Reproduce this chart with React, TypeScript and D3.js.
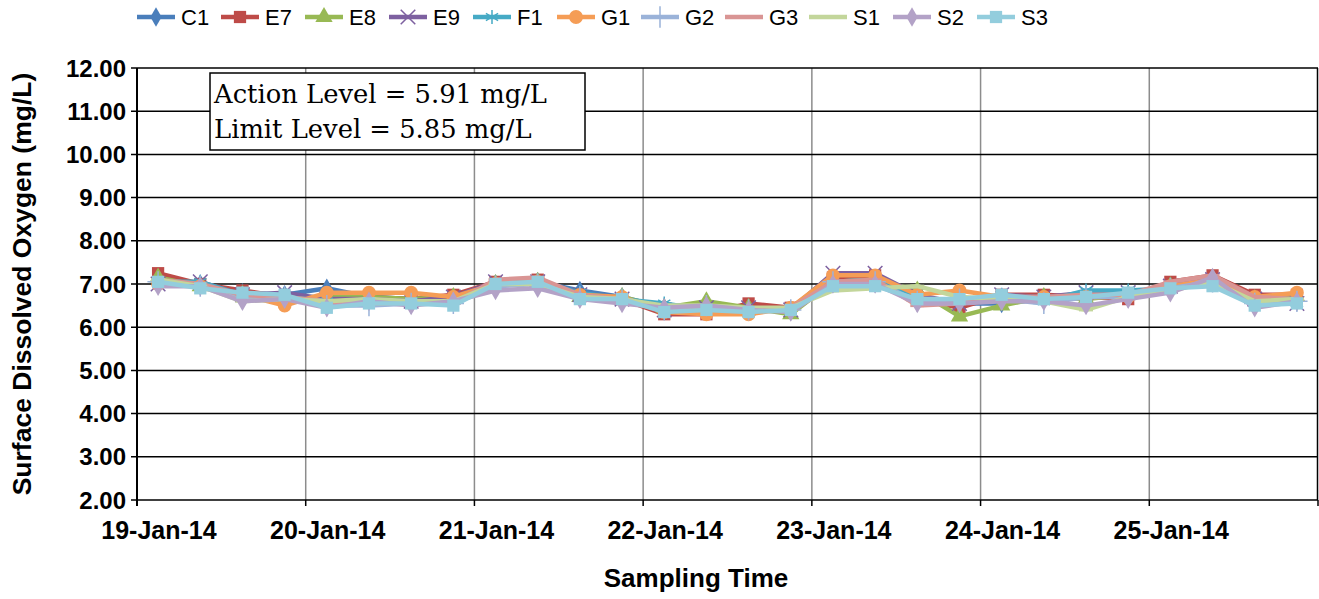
import React from 'react';
import * as d3 from 'd3';

const width = 1319;
const height = 599;
const margin = { top: 68, right: 1, bottom: 99, left: 137 };

const seriesNames = ['C1', 'E7', 'E8', 'E9', 'F1', 'G1', 'G2', 'G3', 'S1', 'S2', 'S3'];
const seriesColors = ['#4A7EBB', '#BE4B48', '#98B954', '#7D60A0', '#46AAC5', '#F59D56', '#9BB3D9', '#D99594', '#C3D69B', '#B3A2C7', '#93CDDD'];
const seriesMarkers = ['diamond', 'square', 'triangle', 'times', 'asterisk', 'circle', 'plus', 'dash', 'dash', 'diamond', 'square'];

const sampleTimes = [
    '2014-01-19 03:00', '2014-01-19 09:00', '2014-01-19 15:00', '2014-01-19 21:00',
    '2014-01-20 03:00', '2014-01-20 09:00', '2014-01-20 15:00', '2014-01-20 21:00',
    '2014-01-21 03:00', '2014-01-21 09:00', '2014-01-21 15:00', '2014-01-21 21:00',
    '2014-01-22 03:00', '2014-01-22 09:00', '2014-01-22 15:00', '2014-01-22 21:00',
    '2014-01-23 03:00', '2014-01-23 09:00', '2014-01-23 15:00', '2014-01-23 21:00',
    '2014-01-24 03:00', '2014-01-24 09:00', '2014-01-24 15:00', '2014-01-24 21:00',
    '2014-01-25 03:00', '2014-01-25 09:00', '2014-01-25 15:00', '2014-01-25 21:00',
];

const C1 = [7.05, 7.0, 6.8, 6.75, 6.9, 6.7, 6.65, 6.65, 7.0, 7.05, 6.85, 6.7, 6.45, 6.45, 6.4, 6.4, 7.1, 7.1, 6.7, 6.55, 6.55, 6.65, 6.7, 6.75, 6.9, 7.05, 6.65, 6.7];
const E7 = [7.25, 7.0, 6.85, 6.7, 6.65, 6.7, 6.65, 6.75, 7.05, 7.1, 6.75, 6.65, 6.3, 6.3, 6.55, 6.45, 7.15, 7.2, 6.65, 6.45, 6.75, 6.75, 6.7, 6.65, 7.05, 7.2, 6.75, 6.75];
const E8 = [7.15, 6.95, 6.75, 6.7, 6.7, 6.7, 6.65, 6.7, 7.0, 7.05, 6.7, 6.7, 6.45, 6.6, 6.45, 6.3, 7.05, 7.1, 6.85, 6.25, 6.5, 6.7, 6.65, 6.75, 6.95, 7.05, 6.65, 6.7];
const E9 = [7.0, 7.05, 6.75, 6.8, 6.65, 6.65, 6.6, 6.7, 7.05, 7.05, 6.75, 6.65, 6.4, 6.45, 6.45, 6.4, 7.25, 7.25, 6.75, 6.55, 6.75, 6.7, 6.8, 6.8, 6.95, 7.1, 6.65, 6.55];
const F1 = [7.05, 7.05, 6.75, 6.7, 6.6, 6.6, 6.6, 6.6, 7.0, 7.05, 6.8, 6.65, 6.55, 6.4, 6.4, 6.4, 7.05, 7.1, 6.65, 6.6, 6.75, 6.6, 6.85, 6.85, 6.9, 7.0, 6.55, 6.55];
const G1 = [7.0, 6.95, 6.75, 6.5, 6.8, 6.8, 6.8, 6.7, 7.0, 7.05, 6.75, 6.7, 6.35, 6.3, 6.3, 6.45, 7.2, 7.2, 6.75, 6.85, 6.7, 6.7, 6.7, 6.7, 6.95, 7.1, 6.7, 6.8];
const G2 = [7.05, 6.95, 6.7, 6.7, 6.5, 6.5, 6.55, 6.55, 6.95, 7.0, 6.7, 6.65, 6.4, 6.5, 6.4, 6.4, 7.05, 7.05, 6.6, 6.65, 6.65, 6.55, 6.7, 6.7, 6.9, 7.05, 6.55, 6.6];
const G3 = [7.1, 7.0, 6.75, 6.7, 6.6, 6.55, 6.55, 6.55, 7.1, 7.15, 6.75, 6.65, 6.45, 6.45, 6.4, 6.45, 7.05, 7.1, 6.5, 6.55, 6.7, 6.7, 6.75, 6.75, 7.05, 7.2, 6.7, 6.65];
const S1 = [7.1, 6.95, 6.6, 6.65, 6.6, 6.65, 6.6, 6.6, 7.0, 7.0, 6.7, 6.65, 6.5, 6.5, 6.45, 6.45, 6.85, 6.9, 6.95, 6.7, 6.65, 6.6, 6.4, 6.7, 6.85, 7.05, 6.6, 6.65];
const S2 = [6.95, 6.95, 6.6, 6.65, 6.45, 6.6, 6.5, 6.6, 6.85, 6.9, 6.65, 6.55, 6.45, 6.5, 6.4, 6.35, 7.0, 7.0, 6.55, 6.55, 6.6, 6.6, 6.5, 6.65, 6.8, 7.15, 6.45, 6.6];
const S3 = [7.05, 6.9, 6.8, 6.75, 6.45, 6.55, 6.55, 6.5, 7.0, 7.05, 6.65, 6.65, 6.35, 6.4, 6.35, 6.4, 6.95, 6.95, 6.65, 6.65, 6.75, 6.65, 6.7, 6.8, 6.9, 6.95, 6.5, 6.55];

const seriesValues = [C1, E7, E8, E9, F1, G1, G2, G3, S1, S2, S3];

const yTicks = [2, 3, 4, 5, 6, 7, 8, 9, 10, 11, 12];
const dayTicks = ['2014-01-19', '2014-01-20', '2014-01-21', '2014-01-22', '2014-01-23', '2014-01-24', '2014-01-25', '2014-01-26'];
const noteLines = ['Action Level = 5.91 mg/L', 'Limit Level = 5.85 mg/L'];

const parseTime = d3.timeParse('%Y-%m-%d %H:%M');
const parseDay = d3.timeParse('%Y-%m-%d');
const formatDay = d3.timeFormat('%-d-%b-%y');

const x = d3
    .scaleTime()
    .domain([parseDay(dayTicks[0]), parseDay(dayTicks[dayTicks.length - 1])])
    .range([margin.left, width - margin.right]);
const y = d3
    .scaleLinear()
    .domain([2, 12])
    .range([height - margin.bottom, margin.top]);

const symbolTypes = {
    diamond: { type: d3.symbolDiamond, size: 110, fill: true },
    square: { type: d3.symbolSquare, size: 150, fill: true },
    triangle: { type: d3.symbolTriangle, size: 130, fill: true },
    circle: { type: d3.symbolCircle, size: 150, fill: true },
    times: { type: d3.symbolTimes, size: 140, fill: false },
    asterisk: { type: d3.symbolAsterisk, size: 140, fill: false },
    plus: { type: d3.symbolPlus, size: 150, fill: false },
};

function Marker({ kind, color, cx, cy }) {
    if (kind === 'dash') {
        return <line x1={cx - 7} x2={cx + 7} y1={cy} y2={cy} stroke={color} strokeWidth={3} />;
    }
    const s = symbolTypes[kind];
    const d = d3.symbol().type(s.type).size(s.size)();
    return (
        <path
            d={d}
            transform={`translate(${cx},${cy})`}
            fill={s.fill ? color : 'none'}
            stroke={color}
            strokeWidth={s.fill ? 0 : 1.5}
        />
    );
}

export default function App() {
    const times = sampleTimes.map((t) => parseTime(t));
    const line = d3
        .line<number>()
        .x((_, i) => x(times[i]))
        .y((d) => y(d));

    const plotLeft = margin.left;
    const plotRight = width - margin.right;
    const plotTop = margin.top;
    const plotBottom = height - margin.bottom;

    return (
        <svg
            width={width}
            height={height}
            style={{ position: 'absolute', left: 0, top: 0, background: '#fff' }}
            fontFamily="Arial, 'Liberation Sans', sans-serif"
        >
            <rect x={0} y={0} width={width} height={height} fill="#fff" />

            {/* vertical day gridlines */}
            {dayTicks.slice(1, -1).map((d) => (
                <line key={d} x1={x(parseDay(d))} x2={x(parseDay(d))} y1={plotTop} y2={plotBottom} stroke="#8c8c8c" strokeWidth={1.5} />
            ))}
            <line x1={plotRight - 0.5} x2={plotRight - 0.5} y1={plotTop} y2={plotBottom} stroke="#000" strokeWidth={1.5} />

            {/* horizontal gridlines + y labels */}
            {yTicks.map((t) => (
                <g key={t}>
                    <line x1={plotLeft - 6} x2={plotRight} y1={y(t)} y2={y(t)} stroke="#000" strokeWidth={1.5} />
                    <text x={plotLeft - 11} y={y(t)} dy="0.36em" textAnchor="end" fontSize={24} fontWeight="bold">
                        {t.toFixed(2)}
                    </text>
                </g>
            ))}

            {/* axes */}
            <line x1={plotLeft} x2={plotLeft} y1={plotTop} y2={plotBottom + 6} stroke="#000" strokeWidth={2} />
            {dayTicks.map((d) => (
                <line key={d} x1={x(parseDay(d))} x2={x(parseDay(d))} y1={plotBottom} y2={plotBottom + 6} stroke="#000" strokeWidth={1.5} />
            ))}
            {dayTicks.slice(0, -1).map((d) => (
                <text key={d} x={x(parseDay(d)) + 22} y={plotBottom + 39} textAnchor="middle" fontSize={25} fontWeight="bold">
                    {formatDay(parseDay(d))}
                </text>
            ))}

            <text x={696} y={587} textAnchor="middle" fontSize={26} fontWeight="bold">Sampling Time</text>
            <text
                transform={`translate(31,${(plotTop + plotBottom) / 2}) rotate(-90)`}
                textAnchor="middle"
                fontSize={26.5}
                fontWeight="bold"
            >
                Surface Dissolved Oxygen (mg/L)
            </text>

            {/* series lines and markers */}
            {seriesValues.map((vals, si) => (
                <g key={seriesNames[si]}>
                    <path d={line(vals)} fill="none" stroke={seriesColors[si]} strokeWidth={4.5} strokeLinejoin="round" />
                    {vals.map((v, i) => (
                        <Marker key={i} kind={seriesMarkers[si]} color={seriesColors[si]} cx={x(times[i])} cy={y(v)} />
                    ))}
                </g>
            ))}

            {/* note box */}
            <rect x={210} y={73} width={375} height={77} fill="#fff" stroke="#000" strokeWidth={1.5} />
            {noteLines.map((l, i) => (
                <text key={l} x={214} y={103 + i * 35} fontSize={25.8} fontFamily="'DejaVu Serif', 'Liberation Serif', serif">
                    {l}
                </text>
            ))}

            {/* legend */}
            {seriesNames.map((n, i) => {
                const lx = 137 + i * 84;
                return (
                    <g key={n}>
                        <line x1={lx} x2={lx + 38} y1={17} y2={17} stroke={seriesColors[i]} strokeWidth={4.5} />
                        <Marker kind={seriesMarkers[i]} color={seriesColors[i]} cx={lx + 19} cy={17} />
                        <text x={lx + 44} y={17} dy="0.36em" fontSize={22}>{n}</text>
                    </g>
                );
            })}
        </svg>
    );
}
